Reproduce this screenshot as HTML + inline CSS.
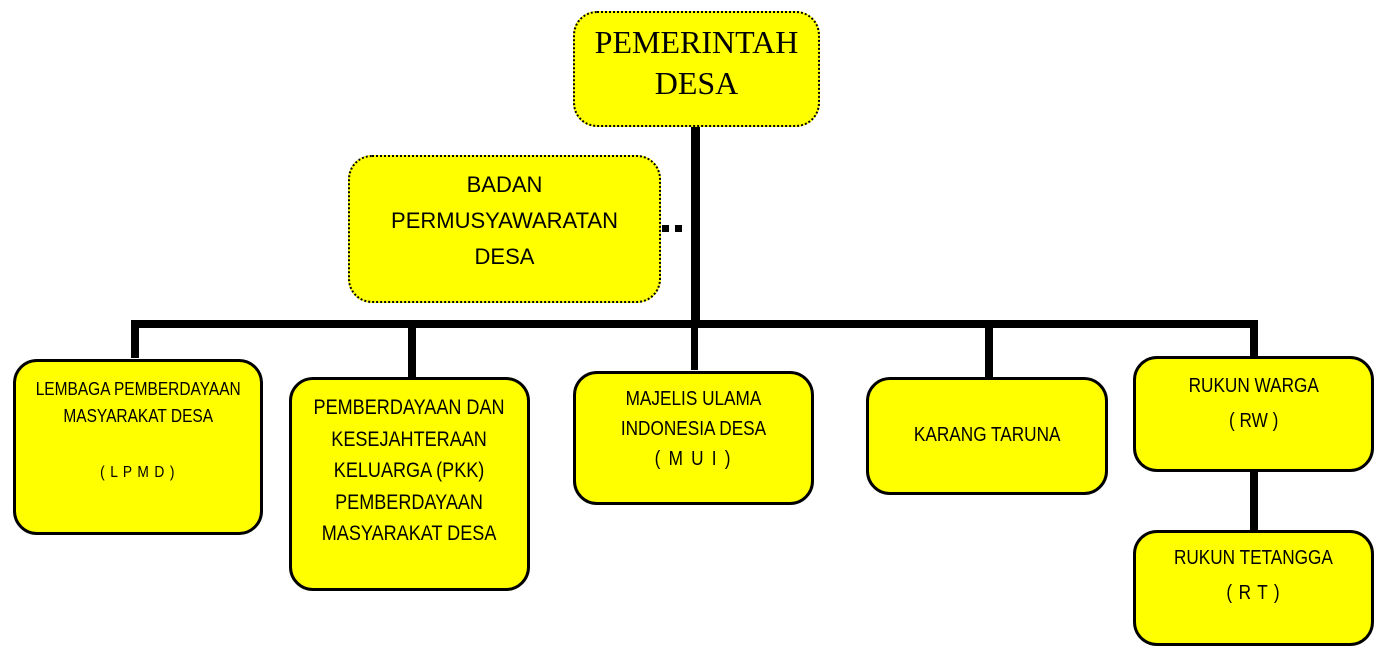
<!DOCTYPE html>
<html><head><style>
body{margin:0;width:1395px;height:662px;background:#fff;position:relative;overflow:hidden;font-family:"Liberation Sans",sans-serif;color:#000}
.b{position:absolute;background:#ff0;border:3px solid #000;border-radius:24px;box-sizing:border-box;text-align:center}
.d{border:2px dotted #000}
.l{position:absolute;background:#000}
.t{position:absolute;left:0;right:0;text-align:center;white-space:nowrap}
.n{display:inline-block;transform:scaleX(0.86)}
</style></head><body>
<div class="l" style="left:691px;top:124px;width:9px;height:204px"></div>
<div class="l" style="left:691px;top:328px;width:7px;height:42px"></div>
<div class="l" style="left:131px;top:320px;width:1127px;height:8px"></div>
<div class="l" style="left:131px;top:320px;width:8px;height:38px"></div>
<div class="l" style="left:408px;top:320px;width:8px;height:58px"></div>
<div class="l" style="left:985px;top:320px;width:8px;height:58px"></div>
<div class="l" style="left:1250px;top:320px;width:8px;height:37px"></div>
<div class="l" style="left:1250px;top:470px;width:8px;height:61px"></div>
<div class="l" style="left:662px;top:225px;width:7px;height:7px"></div>
<div class="l" style="left:675px;top:225px;width:7px;height:7px"></div>

<div class="b d" style="left:573px;top:11px;width:247px;height:116px;font-family:'Liberation Serif',serif;font-size:32px;line-height:41px;padding-top:9px">PEMERINTAH<br>DESA</div>
<div class="b d" style="left:348px;top:155px;width:313px;height:148px;font-size:22px;line-height:36px;padding-top:10px">BADAN<br>PERMUSYAWARATAN<br>DESA</div>

<div class="b" style="left:13px;top:359px;width:250px;height:176px;font-size:18px">
<div class="t" style="top:14px;line-height:27px"><span class="n">LEMBAGA PEMBERDAYAAN<br>MASYARAKAT DESA</span></div>
<div class="t" style="top:102px;font-size:16px;letter-spacing:1px"><span class="n">( L P M D )</span></div></div>

<div class="b" style="left:289px;top:377px;width:241px;height:214px;font-size:21px">
<div class="t" style="top:12px;line-height:31.5px"><span class="n">PEMBERDAYAAN DAN<br>KESEJAHTERAAN<br>KELUARGA (PKK)<br>PEMBERDAYAAN<br>MASYARAKAT DESA</span></div></div>

<div class="b" style="left:573px;top:371px;width:241px;height:134px;font-size:20px">
<div class="t" style="top:10px;line-height:30px"><span class="n">MAJELIS ULAMA<br>INDONESIA DESA<br><span style="letter-spacing:2px">( M U I )</span></span></div></div>

<div class="b" style="left:866px;top:377px;width:242px;height:118px;font-size:20px">
<div class="t" style="top:44px"><span class="n">KARANG TARUNA</span></div></div>

<div class="b" style="left:1133px;top:356px;width:241px;height:116px;font-size:20px">
<div class="t" style="top:10px;line-height:35px"><span class="n">RUKUN WARGA<br>( RW )</span></div></div>

<div class="b" style="left:1133px;top:530px;width:241px;height:116px;font-size:20px">
<div class="t" style="top:8px;line-height:35px"><span class="n">RUKUN TETANGGA<br><span style="letter-spacing:1px">( R T )</span></span></div></div>
</body></html>
